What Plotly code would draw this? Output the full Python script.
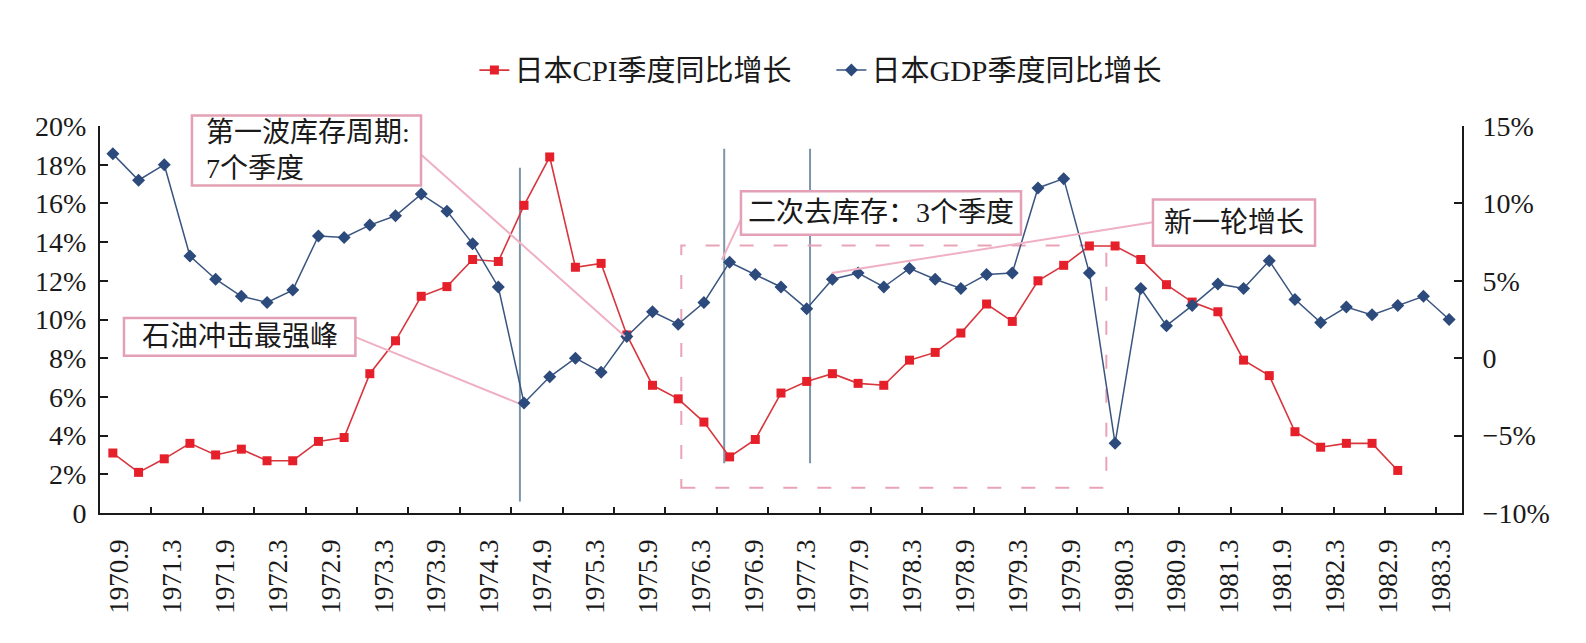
import plotly.graph_objects as go

# ---------------- data ----------------
quarters = ["1970.9", "1970.12", "1971.3", "1971.6", "1971.9", "1971.12", "1972.3", "1972.6",
            "1972.9", "1972.12", "1973.3", "1973.6", "1973.9", "1973.12", "1974.3", "1974.6",
            "1974.9", "1974.12", "1975.3", "1975.6", "1975.9", "1975.12", "1976.3", "1976.6",
            "1976.9", "1976.12", "1977.3", "1977.6", "1977.9", "1977.12", "1978.3", "1978.6",
            "1978.9", "1978.12", "1979.3", "1979.6", "1979.9", "1979.12", "1980.3", "1980.6",
            "1980.9", "1980.12", "1981.3", "1981.6", "1981.9", "1981.12", "1982.3", "1982.6",
            "1982.9", "1982.12", "1983.3", "1983.6", "1983.9"]

tick_labels = ["1970.9", "1971.3", "1971.9", "1972.3", "1972.9", "1973.3", "1973.9", "1974.3",
               "1974.9", "1975.3", "1975.9", "1976.3", "1976.9", "1977.3", "1977.9", "1978.3",
               "1978.9", "1979.3", "1979.9", "1980.3", "1980.9", "1981.3", "1981.9", "1982.3",
               "1982.9", "1983.3"]

cpi = [3.1, 2.1, 2.8, 3.6, 3.0, 3.3, 2.7, 2.7, 3.7, 3.9,
       7.2, 8.9, 11.2, 11.7, 13.1, 13.0, 15.9, 18.4, 12.7, 12.9,
       9.2, 6.6, 5.9, 4.7, 2.9, 3.8, 6.2, 6.8, 7.2, 6.7,
       6.6, 7.9, 8.3, 9.3, 10.8, 9.9, 12.0, 12.8, 13.8, 13.8,
       13.1, 11.8, 10.9, 10.4, 7.9, 7.1, 4.2, 3.4, 3.6, 3.6,
       2.2]

gdp = [13.2, 11.5, 12.5, 6.6, 5.1, 4.0, 3.6, 4.4, 7.9, 7.8,
       8.6, 9.2, 10.6, 9.5, 7.4, 4.6, -2.9, -1.2, 0.0, -0.9,
       1.4, 3.0, 2.2, 3.6, 6.2, 5.4, 4.6, 3.2, 5.1, 5.5,
       4.6, 5.8, 5.1, 4.5, 5.4, 5.5, 11.0, 11.6, 5.5, -5.5,
       4.5, 2.1, 3.4, 4.8, 4.5, 6.3, 3.8, 2.3, 3.3, 2.8,
       3.4, 4.0, 2.5]

left_ticks = [0, 2, 4, 6, 8, 10, 12, 14, 16, 18, 20]
left_text = ["0", "2%", "4%", "6%", "8%", "10%", "12%", "14%", "16%", "18%", "20%"]
right_ticks = [-10, -5, 0, 5, 10, 15]
right_text = ["\u221210%", "\u22125%", "0", "5%", "10%", "15%"]

# ---------------- styles ----------------
SERIF = "Liberation Serif, 'Noto Sans CJK SC', serif"
INK = "#1a1a1a"
RED_M = "#e6202b"
RED_L = "#d8353d"
BLUE_M = "#2c4a7c"
BLUE_L = "#3a5580"
VLINE = "#7d95aa"
PINK_BOX = "#e4a0b5"
PINK_LEAD = "#efb0c3"
PINK_DASH = "#e9a3b7"

fig = go.Figure()
fig.add_trace(go.Scatter(
    x=list(range(len(cpi))), y=cpi, name="日本CPI季度同比增长",
    mode="lines+markers",
    line=dict(color=RED_L, width=1.6),
    marker=dict(symbol="square", size=9, color=RED_M),
    customdata=quarters[:len(cpi)],
    hovertemplate="%{customdata}: %{y:.1f}%<extra></extra>",
    yaxis="y"))
fig.add_trace(go.Scatter(
    x=list(range(len(gdp))), y=gdp, name="日本GDP季度同比增长",
    mode="lines+markers",
    line=dict(color=BLUE_L, width=1.5),
    marker=dict(symbol="diamond", size=10, color=BLUE_M),
    customdata=quarters[:len(gdp)],
    hovertemplate="%{customdata}: %{y:.1f}%<extra></extra>",
    yaxis="y2"))
# carrier for the label axis
fig.add_trace(go.Scatter(x=[None], y=[None], xaxis="x2", yaxis="y",
                         showlegend=False, hoverinfo="skip"))

n = len(quarters)
boundary_ticks = [i + 1.5 for i in range(0, n - 1, 2)]

shapes = [
    # vertical marker lines
    dict(type="line", xref="x", yref="y", x0=15.84, x1=15.84, y0=0.59, y1=17.84,
         line=dict(color=VLINE, width=2), layer="below"),
    dict(type="line", xref="x", yref="y", x0=23.79, x1=23.79, y0=2.57, y1=18.82,
         line=dict(color=VLINE, width=2), layer="below"),
    dict(type="line", xref="x", yref="y", x0=27.13, x1=27.13, y0=2.57, y1=18.82,
         line=dict(color=VLINE, width=2), layer="below"),
    # dashed rectangle
    dict(type="rect", xref="x", yref="y", x0=22.12, x1=38.66, y0=1.31, y1=13.83,
         line=dict(color=PINK_DASH, width=2, dash="14px,20px"), layer="below"),
    # leader lines
    dict(type="line", xref="x", yref="y", x0=12.0, y0=18.52, x1=19.93, y1=9.12,
         line=dict(color=PINK_LEAD, width=2)),
    dict(type="line", xref="x", yref="y", x0=9.44, y0=9.09, x1=15.77, y1=5.68,
         line=dict(color=PINK_LEAD, width=2)),
    dict(type="line", xref="x", yref="y", x0=24.44, y0=15.16, x1=23.70, y1=13.09,
         line=dict(color=PINK_LEAD, width=2)),
    dict(type="line", xref="x", yref="y", x0=40.47, y0=15.02, x1=27.98, y1=12.40,
         line=dict(color=PINK_LEAD, width=2)),
    # callout boxes
    dict(type="rect", xref="paper", yref="paper", x0=0.0675, x1=0.2357, y0=0.846, y1=1.0272,
         line=dict(color=PINK_BOX, width=2.5), fillcolor="white"),
    dict(type="rect", xref="paper", yref="paper", x0=0.0176, x1=0.1875, y0=0.4062, y1=0.5037,
         line=dict(color=PINK_BOX, width=2.5), fillcolor="white"),
    dict(type="rect", xref="paper", yref="paper", x0=0.4706, x1=0.6762, y0=0.7193, y1=0.8313,
         line=dict(color=PINK_BOX, width=2.5), fillcolor="white"),
    dict(type="rect", xref="paper", yref="paper", x0=0.7731, x1=0.8921, y0=0.6908, y1=0.8098,
         line=dict(color=PINK_BOX, width=2.5), fillcolor="white"),
]

ann_font = dict(family=SERIF, size=28, color=INK)
annotations = [
    dict(xref="paper", yref="paper", x=0.0764, y=0.9366, xanchor="left", yanchor="middle",
         align="left", showarrow=False, text="第一波库存周期:<br>7个季度", font=ann_font),
    dict(xref="paper", yref="paper", x=0.1026, y=0.4549, xanchor="center", yanchor="middle",
         showarrow=False, text="石油冲击最强峰", font=ann_font),
    dict(xref="paper", yref="paper", x=0.5734, y=0.7753, xanchor="center", yanchor="middle",
         showarrow=False, text="二次去库存：3个季度", font=ann_font),
    dict(xref="paper", yref="paper", x=0.8326, y=0.7503, xanchor="center", yanchor="middle",
         showarrow=False, text="新一轮增长", font=ann_font),
]

tick_font = dict(family=SERIF, size=27, color=INK)
ytick_font = dict(family=SERIF, size=28, color=INK)

fig.update_layout(
    width=1586, height=643,
    margin=dict(l=100, r=124, t=126, b=130, autoexpand=False),
    plot_bgcolor="white", paper_bgcolor="white",
    font=dict(family=SERIF, size=26, color=INK),
    showlegend=True,
    legend=dict(orientation="h", x=0.537, xanchor="center", y=1.144, yanchor="middle",
                font=dict(family=SERIF, size=29, color=INK), bgcolor="rgba(0,0,0,0)",
                entrywidth=312),
    xaxis=dict(range=[-0.5, n - 0.5], showline=True, linecolor=INK, linewidth=2,
               showgrid=False, zeroline=False, tickmode="array", tickvals=boundary_ticks,
               ticktext=[""] * len(boundary_ticks), showticklabels=False,
               ticks="inside", ticklen=6, tickwidth=2, tickcolor=INK),
    xaxis2=dict(range=[-0.369, 25.397], overlaying="x", anchor="y", side="bottom",
                showline=False, showgrid=False, zeroline=False, tickmode="array",
                tickvals=list(range(len(tick_labels))), ticktext=tick_labels,
                tickangle=-90, ticks="", tickfont=tick_font, ticklabelstandoff=20),
    yaxis=dict(range=[0, 20], tickmode="array", tickvals=left_ticks, ticktext=left_text,
               showline=True, linecolor=INK, linewidth=2, showgrid=False, zeroline=False,
               ticks="inside", ticklen=8, tickwidth=2, tickcolor=INK,
               tickfont=ytick_font, ticklabelstandoff=6),
    yaxis2=dict(range=[-10, 15], overlaying="y", side="right", anchor="x",
                tickmode="array", tickvals=right_ticks, ticktext=right_text,
                showline=True, linecolor=INK, linewidth=2, showgrid=False, zeroline=False,
                ticks="inside", ticklen=8, tickwidth=2, tickcolor=INK,
                tickfont=ytick_font, ticklabelstandoff=13),
    shapes=shapes,
    annotations=annotations,
)

fig.write_html("out.html")
